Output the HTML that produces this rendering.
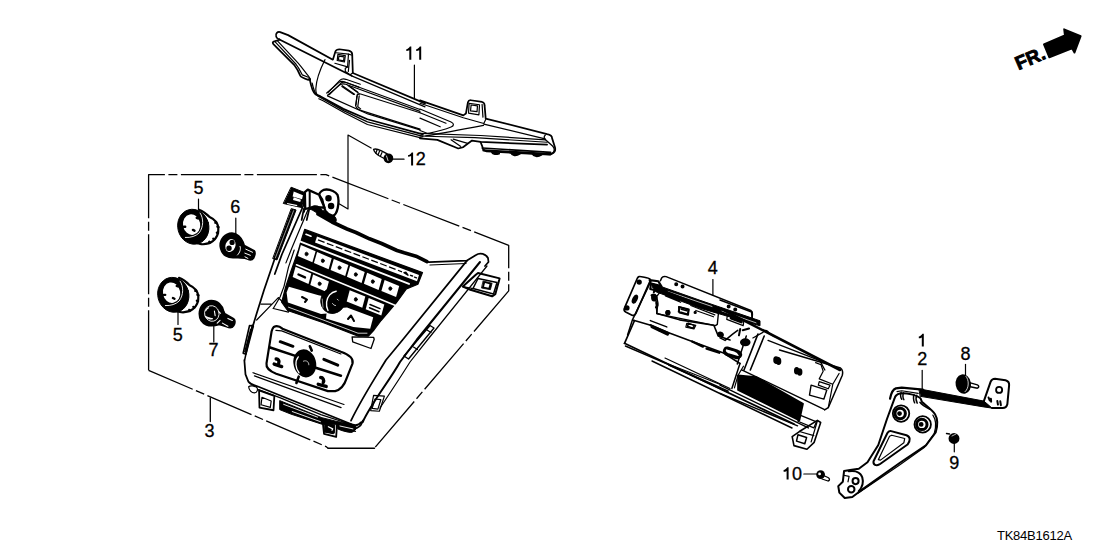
<!DOCTYPE html>
<html><head><meta charset="utf-8">
<style>
html,body{margin:0;padding:0;background:#fff;overflow:hidden;}
svg{display:block;}
text{font-family:"Liberation Sans",sans-serif;fill:#000;}
.n{font-size:18px;}
path,line,polyline,polygon,circle,ellipse,rect{fill:none;stroke:#000;stroke-width:1.75;vector-effect:non-scaling-stroke;stroke-linejoin:round;stroke-linecap:round;}
.t{stroke-width:1.2;}
.f{fill:#000;}
.w{fill:#fff;}
.d{stroke-dasharray:34 3 6 3;stroke-linecap:butt;stroke-width:1.3;}
</style></head><body>
<svg width="1108" height="554" viewBox="0 0 1108 554">
<!-- Part 11 bezel -->
<g transform="translate(265,25) scale(0.144404)">
<!-- top flange outline -->
<path d="M100,100 C78,95 68,70 82,55 C88,48 95,46 105,49 L160,70 L470,240 L488,182 C492,172 500,168 515,168 L580,178 C596,182 604,192 604,205 L608,330"/>
<!-- tab face -->
<path d="M492,192 L578,202 L572,290 L484,265" class="t"/>
<path d="M505,203 L556,212 L550,256 L500,246 Z" class="t"/>
<path d="M512,215 L548,221 L544,248 L508,242 Z" class="t"/>
<path d="M578,202 L598,208 M585,245 L577,322 M572,290 L556,300 L556,322 L580,338" class="t"/>
<!-- line B -->
<path d="M100,100 L600,352"/>
<!-- seam -->
<path d="M415,240 C385,300 355,380 352,440 C350,475 360,485 372,492" class="t"/>
<!-- left wing -->
<path d="M100,102 L60,115 C52,118 52,126 58,132 L205,280 C225,305 238,335 245,352 C250,362 270,370 300,380 L310,372" />
<path d="M72,118 L215,272 C238,300 250,330 258,345 L300,362" class="t"/>
<path d="M88,112 L228,262 C258,295 280,330 300,352 C308,362 312,370 315,378" class="t"/>
<!-- body left edge -->
<path d="M305,375 L312,381"/>
<!-- window frames -->
<path d="M436,468 L518,384 C528,374 545,372 560,376 L660,410" class="t"/>
<path d="M446,482 L526,402 C536,394 550,395 562,398 L650,430" class="t"/>
<path d="M535,420 L620,480 M592,428 L645,468" class="t"/>
<path d="M640,480 L655,478 M636,490 L630,554" class="t"/>
<!-- double top edge after tab -->
<path d="M608,332 L1108,543"/>
<path d="M600,352 L1108,567" class="t"/>
<path d="M590,345 L604,334" class="t"/>
</g>
<g transform="translate(300,80) scale(0.144404)">
<!-- bottom edge lines -->
<path d="M68,-2 C76,42 84,84 108,100 L140,112 L300,200 L467,272 L851,376"/>
<path d="M84,22 C92,60 100,92 122,110 L150,126 L305,214 L467,290 L851,390" style="stroke-width:1.3"/>
<path d="M130,130 L160,144 L310,228 L467,308 L851,404" class="t"/>
<!-- window -->
<path d="M185,90 L268,18 C278,10 292,8 305,12 L831,204" class="t"/>
<path d="M195,102 L278,32 C288,26 300,25 312,28 L831,217" class="t"/>
<path d="M195,102 L190,110 L470,235 L831,345" class="t"/>
<path d="M398,100 C402,96 410,95 420,97 L831,227" class="t"/>
<path d="M398,100 L385,178 C390,195 400,205 420,210 L831,340" class="t"/>
<path d="M410,110 L400,185 L420,200" class="t"/>
<path d="M290,45 L372,100 M332,38 L398,85" class="t"/>
</g>
<g transform="translate(420,90) scale(0.144404)">
<!-- tab 2 -->
<path d="M0,72 L300,176 L318,163 L332,85 C335,75 340,70 352,71 L430,83 C442,86 447,95 447,105 L455,198 L880,305 C905,310 915,318 915,335 L935,398 C940,420 935,432 915,440"/>
<path d="M340,92 L412,102 L408,172 L336,160 Z" class="t"/>
<path d="M354,104 L398,110 L395,150 L350,144 Z" class="t"/>
<path d="M430,100 L436,188" class="t"/>
<path d="M0,92 L300,192 L442,232 L455,205" class="t"/>
<path d="M442,236 L866,338" style="stroke-width:1.3"/>
<!-- window right end -->
<path d="M0,132 L215,222 C238,232 236,248 215,256 C180,270 130,285 60,300" class="t"/>
<path d="M0,158 L180,230 M0,195 L140,255" class="t"/>
<path d="M40,318 C150,300 300,272 440,245" class="t"/>
<!-- lower body -->
<path d="M0,300 L420,315 L870,345" class="t"/>
<path d="M0,318 L100,322 L380,330 L880,362" class="t"/>
<path d="M0,335 L120,345 L265,405 L300,395 L360,350 L420,360 L880,378" />
<path d="M215,345 L280,390 M230,340 L330,370" class="t"/>
<path d="M868,312 C855,322 858,338 875,350 L918,388 C932,402 932,422 920,438" style="stroke-width:1.3"/>
<!-- teeth strip -->
<path d="M420,362 L432,392 C432,410 440,420 460,425 L900,448 L915,440"/>
<path d="M432,402 L905,432" style="stroke-width:1.6"/>
<path d="M440,418 L905,444" style="stroke-width:2.4"/>
<path d="M495,425 C500,444 520,448 548,440 Z M628,432 C638,456 665,458 692,442 Z M778,440 C788,462 815,465 842,448 Z" class="f"/>
<path d="M0,280 C30,292 55,300 60,300" class="t"/>
</g>
<!-- Part 3 panel -->
<!-- H frame: clip and bracket -->
<g transform="translate(280,180) scale(0.072202)">
<path d="M158,102 L338,172 L302,382 L50,326 Z" class="f" style="stroke-width:1"/>
<path d="M190,160 L318,210 L305,268 L175,228 Z M190,240 L290,272 L280,305 L180,276 Z M100,318 L240,345 L236,362 L96,334 Z" class="w" style="stroke:none"/>
</g>
<g transform="translate(298,184) scale(0.072254)">
<path d="M170,345 C195,300 250,288 292,318 L335,362 L472,422 C505,440 530,470 530,500 L520,535 L470,525 L300,435 L238,385 L200,362 Z" class="f" style="stroke-width:1"/>
<path d="M292,150 C300,108 342,78 392,76 C452,74 522,108 547,150 C562,192 560,282 550,332 C537,392 512,432 482,442 C442,432 402,407 380,372 C360,332 346,262 336,217 Z" class="w" style="stroke-width:2.3"/>
<path d="M95,112 L135,78 L292,148 L368,328 L258,322 L165,332 L100,346 Z" class="w" style="stroke-width:2.3"/>
<path d="M162,100 L162,330" style="stroke-width:2"/>
<circle cx="422" cy="196" r="33" class="f"/>
<circle cx="458" cy="305" r="33" class="f"/>
<path d="M170,340 C195,305 250,295 288,322" style="stroke-width:2"/>
</g>
<g transform="translate(280,180) scale(0.072202)">
<path d="M330,400 L300,554 M410,380 L370,554" />
</g>
<!-- Q-TL frame -->
<g transform="translate(230,180) scale(0.24744)">
<!-- left rail -->
<path d="M249,116 L267,121 L190,323 L174,318 Z" class="f" style="stroke-width:1"/>
<path d="M257,124 L183,316" style="stroke:#fff;stroke-width:0.6"/>
<!-- panel left outer edge (upper) -->
<path d="M300,52 L298,100 L210,300 L181,380"/>
<path d="M316,118 L250,275 L226,335" class="t"/>
<!-- slanted line from S bracket -->
<path d="M305,110 L300,130" class="t"/>
</g>
<!-- frame 6.925 at (235,250) -->
<g transform="translate(235,250) scale(0.144404)">
<path d="M275,60 L200,280 L150,440 L118,545"/>
<path d="M410,0 L370,120 L340,250 L312,325 L265,405" class="t"/>
<path d="M180,375 L250,375 M300,330 L250,382 L150,485 M265,405 L370,430 L378,408 L320,350 L300,330" class="t"/>
</g>
<path d="M304.7,229.4 L422.5,272.6 L417.9,284.2 L406.4,289.0 L396.2,302.9 L381.1,320.5 L374.0,330.0 L368.4,336.2 L358.3,336.2 L324.2,323.0 L287.6,310.5 L281.5,302.0 L282.5,299.1 L285.5,287.5 L291.3,270.2 L298.5,250.0 L302.0,238.0 Z" class="f" style="stroke-width:1.2"/>
<path d="M317.0,236.4 L419.0,275.1 L417.0,281.3 L315.0,242.5 Z" class="w" style="stroke:none"/>
<path d="M318,239.9 L402,271.8" style="stroke-width:1.3;stroke-dasharray:7 2.5;stroke-linecap:butt"/>
<path d="M404,272.7 L406,272.3 L408,275.2 Z M410.5,275.3 L412.5,276.0 M414.5,277.1 L416.5,277.9" style="stroke-width:1.4"/>
<path d="M306,234.3 L311,236.2" style="stroke:#fff;stroke-width:1.6"/>
<path d="M300.5,241.6 L409,283.9" style="stroke:#fff;stroke-width:1.9"/>
<path d="M296.5,264.8 L404,309" style="stroke:#fff;stroke-width:1.6"/>
<path d="M300.9,245.1 L315.6,251.2 L312.4,262.2 L297.8,256.1 Z" class="w" style="stroke:none"/>
<path d="M317.1,252.1 L331.7,258.2 L328.6,269.2 L313.9,263.1 Z" class="w" style="stroke:none"/>
<path d="M333.8,258.9 L348.4,265.1 L345.2,276.1 L330.6,269.9 Z" class="w" style="stroke:none"/>
<path d="M350.1,265.8 L364.7,271.9 L361.6,282.9 L346.9,276.8 Z" class="w" style="stroke:none"/>
<path d="M367.1,272.8 L381.7,278.9 L378.6,289.9 L363.9,283.8 Z" class="w" style="stroke:none"/>
<path d="M384.6,279.9 L399.2,286.1 L396.1,297.1 L381.4,290.9 Z" class="w" style="stroke:none"/>
<path d="M295.5,266.7 L311.3,273.5 L308.5,283.9 L292.7,277.1 Z" class="w" style="stroke:none"/>
<path d="M313.1,274.6 L328.9,281.4 L326.1,291.8 L310.3,285.0 Z" class="w" style="stroke:none"/>
<path d="M349.7,290.2 L365.3,296.6 L362.3,307.8 L346.7,301.4 Z" class="w" style="stroke:none"/>
<path d="M368.7,298.0 L384.3,304.4 L381.3,315.6 L365.7,309.2 Z" class="w" style="stroke:none"/>
<path d="M288.9,286.8 L318.5,295.2 L327.0,297.0 L327.0,313.5 L321.0,314.0 L287.9,302.4 L286.6,292.5 Z" class="w" style="stroke:none"/>
<path d="M327.0,309.0 L347.0,307.5 L373.2,317.3 L370.2,328.8 L353.4,327.0 L326.0,318.5 Z" class="w" style="stroke:none"/>
<path d="M288.5,307.2 L324,320.3 L358,333.2 L367,333.2" style="stroke:#fff;stroke-width:0.8"/>
<path d="M352.1,336.8 L373.6,337.3 L374.2,339.2 L371,348.5 L352.7,341.8 Z" style="stroke-width:1.3"/>
<ellipse cx="333" cy="300.5" rx="12.2" ry="13.2" transform="rotate(20 333 300.5)" class="f" style="stroke-width:0.8"/>
<path d="M336.2,291.2 C331,292 327.2,296.5 326.6,302 C326.2,305.5 326.8,308.5 328,310.5" style="stroke:#fff;stroke-width:1.4"/>
<path d="M322.2,299 L323,307.5" style="stroke:#fff;stroke-width:0.6"/>
<path d="M337.3,299.2 L338.3,300.2 M332.5,303.5 C333.5,305 334.5,305.5 335.5,305.5" style="stroke:#fff;stroke-width:0.8"/>
<ellipse cx="306.5" cy="254.0" rx="1.5" ry="1.8" class="f" style="stroke-width:0.8"/>
<ellipse cx="322.8" cy="260.8" rx="1.5" ry="1.8" class="f" style="stroke-width:0.8"/>
<ellipse cx="339.5" cy="267.7" rx="1.5" ry="1.8" class="f" style="stroke-width:0.8"/>
<ellipse cx="355.8" cy="274.5" rx="1.5" ry="1.8" class="f" style="stroke-width:0.8"/>
<ellipse cx="372.8" cy="281.6" rx="1.5" ry="1.8" class="f" style="stroke-width:0.8"/>
<ellipse cx="390.3" cy="288.6" rx="1.5" ry="1.8" class="f" style="stroke-width:0.8"/>
<ellipse cx="319.6" cy="283.8" rx="1.5" ry="1.8" class="f" style="stroke-width:0.8"/>
<ellipse cx="355.8" cy="299.4" rx="1.5" ry="1.8" class="f" style="stroke-width:0.8"/>
<path d="M298.5,274.5 L305,277.4" style="stroke-width:2.4"/>
<path d="M370,304.5 L380,308.6 M369.5,307.8 L379,311.8" style="stroke-width:1.5"/>
<path d="M302,297 L307,299.6 L305,302" style="stroke-width:2"/>
<path d="M348,319 L351,315.5 L354,321" style="stroke-width:2"/>
<!-- lower group -->
<g transform="translate(260,320) scale(0.144509)">
<path d="M95,48 C115,38 138,45 155,60 L560,220 C622,242 648,270 640,302 L600,402 C582,458 558,482 520,492 L470,492 L112,372 C62,352 40,332 45,300 L80,80 C83,65 88,55 95,48 Z" style="stroke-width:2.2"/>
<path d="M110,72 L150,75 L560,235" class="t"/>
<path d="M70,190 L250,250 M385,330 L560,385 M345,182 L358,212 M268,392 L252,436" style="stroke-width:2.6"/>
<ellipse cx="310" cy="300" rx="72" ry="92" transform="rotate(-15 310 300)" class="f"/>
<path d="M265,255 C240,285 245,335 270,365" style="stroke:#fff;stroke-width:1.3"/>
<path d="M300,285 C320,275 340,290 338,310" style="stroke:#fff;stroke-width:0.7"/>
<path d="M140,150 L228,182 M442,272 L538,312" style="stroke-width:3"/>
<path d="M98,305 L150,322 M112,270 C125,268 135,280 130,295 M403,445 L458,460 M420,398 C435,398 445,415 438,432" style="stroke-width:3.4"/>
</g>
<!-- bottom of panel -->
<g transform="translate(240,360) scale(0.144404)">
<path d="M30,0 L38,100 L58,150 C70,165 90,175 120,182 L760,440 C790,455 820,455 840,430"/>
<path d="M90,88 L720,308 M100,110 L700,330" class="t"/>
<path d="M128,205 L280,262 L560,378 L780,450" class="t"/>
<path d="M132,210 L238,248 L232,348 L135,330 Z" style="stroke-width:1.8"/>
<path d="M152,258 L216,284 L210,328 L146,310 Z" class="t"/>
<path d="M60,185 C70,175 100,178 118,192 C125,205 120,225 100,228 C80,228 62,210 60,185 Z" class="t"/>
<path d="M350,340 L560,410 L552,432 L345,362 Z" class="f" style="stroke-width:1"/>
<path d="M572,420 L672,442 L666,532 L582,512 Z" style="stroke-width:1.8"/>
<path d="M592,450 L650,466 L645,510 L586,498 Z" class="t"/>
<path d="M680,440 C720,465 780,480 810,470 C830,462 845,445 850,420" />
<path d="M700,450 L800,478 M690,470 L800,495" class="t"/>
<path d="M905,350 L925,245 L1000,250 L965,355 Z" class="t"/>
<path d="M935,270 L975,275 L955,340 L915,335 Z" class="t"/>
</g>
<g transform="translate(236,300) scale(0.108306)">
<path d="M150,232 L115,390 L80,554" style="stroke-width:1.5"/>
<path d="M125,235 L160,240 L92,500 L66,492 Z" style="stroke-width:1.6"/>
<path d="M135,270 L80,480 M148,262 L90,488" class="t"/>
</g>
<g transform="translate(280,400) scale(0.072202)">
<path d="M0,10 L580,245 L800,300 L800,335 L580,335 L150,195 L0,135 Z" class="f" style="stroke-width:1"/>
<path d="M170,160 L560,300 M50,60 L520,238" style="stroke:#fff;stroke-width:0.9"/>
<path d="M620,330 L760,345 L752,460 L612,440 Z" class="f" style="stroke-width:1"/>
<path d="M670,370 L730,400 L720,420" style="stroke:#fff;stroke-width:1.2"/>
<path d="M800,300 C900,310 1000,330 1050,360 C1060,400 1040,440 980,450 C900,440 840,420 800,400 Z" class="f" style="stroke-width:1"/>
<path d="M830,360 L1010,400" style="stroke:#fff;stroke-width:0.9"/>
</g>
<!-- panel top edge and right arm (real coords) -->
<path d="M318,214 L332,222 L347,229 L356,232.5 L369.5,238.8 L381.6,243.5 L397,250.5 L404.2,252.8 L416,256.2 L427,261.6" style="stroke-width:3.6"/>
<path d="M426,261 L429,262.2 L467,260.6 L476,255 C480,252 486,254 488,258 L488.5,262 L485,266"/>
<path d="M430,265 L466,263.5" class="t"/>
<path d="M467,260.6 L402.5,340 L386,360 C375,378 362,398 351,420.6"/>
<path d="M480,262 L416.6,340 L400,362 C390,380 372,402 362.7,422" style="stroke-width:2"/>
<path d="M487,266 L427.4,340 L410,362 C400,378 388,396 380,408" class="t"/>
<path d="M404,356 L430,325.5 L434,328 L408.5,359 Z" style="stroke-width:1.4"/>
<path d="M413.5,347 L417.5,349.5 M427,330 L431,332.5" class="t"/>
<!-- right clip -->
<path d="M462.8,286.6 L475.8,274.7 L478,273 L499.6,278.4 L495.3,294.2 L492.1,296.3 L470.4,289.8 Z" style="stroke-width:2"/>
<path d="M478,278.5 L497,282.5 L493.5,294 L473,288.5 Z" style="stroke-width:1.5"/>
<path d="M483.4,281.1 L492.1,283.2 L490.4,289.7 L481.8,288.1 Z" class="f" style="stroke-width:0.8"/>
<path d="M485,283 L489.5,284.2 L488.5,287.8 L484,286.8 Z" class="w" style="stroke:none"/>
<path d="M462.8,286.6 L473,288.5 M470.4,289.8 L473,288.5" class="t"/>
<!-- dashed box for part 3 -->
<path d="M148.6,370.3 L148.6,174.6 L326,174.6 L508.7,245.3 L508.7,290.8 L374.5,448" class="d" style="stroke-dasharray:60 3.5 9 3.5"/>
<path d="M148.6,370.3 L326,446.6 L328,448.2" class="d" style="stroke-dasharray:48 3.5 9 3.5"/>
<path d="M328,448.2 L374.5,448.2" style="stroke-width:1.4"/>
<!-- leaders -->
<path d="M414.4,65 L414.4,98.3" class="t" style="stroke-width:1.2"/>
<path d="M392.5,159.2 L404,159.2" style="stroke-width:1.3"/>
<path d="M371.1,148 L348,135.1 L348,209 L339.5,204" class="t" style="stroke-width:1.2"/>
<path d="M210.3,398 L210.3,421.5" style="stroke-width:1.3"/>
<path d="M712.9,279.5 L712.9,295.3" class="t" style="stroke-width:1.2"/>
<path d="M922.2,370.4 L922.2,392" class="t" style="stroke-width:1.2"/>
<path d="M965.5,364.4 L965.5,378" class="t" style="stroke-width:1.2"/>
<path d="M954.3,441.8 L954.3,451.8" class="t" style="stroke-width:1.2"/>
<path d="M803.8,474 L816.7,474" class="t" style="stroke-width:1.2"/>
<!-- screw 12 -->
<path d="M373.6,149.4 C375,148.6 378,149.2 381.5,150.8 L387.2,153.8 L385.2,159 L379.5,156 C376.5,154.2 374.2,151.5 373.6,149.4 Z" style="stroke-width:1.4"/>
<path d="M377,150 L375.8,153.2 M379.5,151.2 L378.2,154.4 M382,152.6 L380.6,155.8" class="t"/>
<circle cx="388.4" cy="158.3" r="4" class="f"/>
<path d="M386.5,156 L388,160.5" style="stroke:#fff;stroke-width:0.8"/>
<!-- FR arrow -->
<polygon points="1043.9,44.4 1064.8,35.2 1064.1,29.2 1080.7,36.1 1074.5,52.7 1072,48.4 1049.3,57.4" class="f"/>
<defs>
<g id="k5">
<path d="M330,75 C400,100 440,140 470,172 C530,200 575,250 585,310 C590,380 562,450 512,490 C470,522 420,535 360,530 L300,515" style="stroke-width:2.2"/>

<path d="M572,300 L588,305 M565,378 L582,386 M518,458 L534,468 M465,498 L472,515 M545,248 L560,244" style="stroke-width:2.2"/>
<ellipse cx="255" cy="300" rx="205" ry="232" transform="rotate(-15 255 300)" class="f" style="stroke-width:1"/>
<ellipse cx="232" cy="272" rx="114" ry="136" transform="rotate(-10 232 272)" class="w" style="stroke:none"/>
<path d="M345,120 C392,190 392,300 332,382 C292,422 222,447 150,442" style="stroke:#fff;stroke-width:0.9"/>
<path d="M128,300 L148,300 M250,342 L270,352 M300,182 L318,190" style="stroke-width:2.4"/>
</g>
</defs>
<use href="#k5" transform="translate(174,204) scale(0.075758)"/>
<use href="#k5" transform="translate(154,272.1) scale(0.075758)"/>
<!-- knob 6 -->
<g transform="translate(216,228) scale(0.061384)">
<path d="M70,300 C60,180 150,90 260,85 C340,85 410,150 440,230 L460,285 L620,370 C642,392 636,440 612,490 C592,520 552,525 512,505 L470,490 C420,480 380,490 330,480 C200,500 90,450 70,300 Z" class="f"/>
<ellipse cx="235" cy="285" rx="80" ry="108" transform="rotate(20 235 285)" class="w" style="stroke:none"/>
<circle cx="262" cy="235" r="28" class="f"/>
<circle cx="212" cy="330" r="30" class="f"/>
<path d="M392,300 C410,340 390,400 350,440" style="stroke:#fff;stroke-width:1"/>
<path d="M485,345 L595,395 M472,470 L520,495 M470,410 L560,445" style="stroke:#fff;stroke-width:1"/>
</g>
<!-- knob 7 -->
<g transform="translate(196,296) scale(0.061367)">
<path d="M55,290 C55,170 140,80 250,75 C350,75 430,150 450,250 L470,290 L612,372 C642,392 640,440 615,480 C590,520 540,520 500,500 L380,462 C320,482 240,496 170,470 C100,440 55,370 55,290 Z" class="f"/>
<path d="M150,330 C180,372 230,386 272,370 C230,362 190,350 150,330 Z" class="w" style="stroke:#fff;stroke-width:1"/>
<ellipse cx="258" cy="285" rx="118" ry="128" transform="rotate(-15 258 285)" style="stroke:#fff;stroke-width:0.9"/>
<path d="M158,240 C170,215 185,200 205,192 M300,245 L312,320 M520,365 L592,398 M430,442 L520,492 M345,442 L392,396 M380,270 L400,280" style="stroke:#fff;stroke-width:1.1"/>
</g>
<!-- leaders for knobs -->
<path d="M198.5,199 L198.5,209.5" class="t" style="stroke-width:1.2"/>
<path d="M235.8,218 L235.8,233.6" class="t" style="stroke-width:1.2"/>
<path d="M178,311.8 L178,324.5" class="t" style="stroke-width:1.2"/>
<path d="M213.8,324.4 L213.8,342" class="t" style="stroke-width:1.2"/>
<!-- Part 4 unit -->
<path d="M651.6,283.2 L700,300.3 L760,320.8 L760,325.8 L700,308.2 L656,291.8 Z" class="f" style="stroke-width:1"/>
<path d="M668,291.5 L712,306.5 M722,311 L756,322.8" style="stroke:#fff;stroke-width:0.7"/>
<g transform="translate(620,265) scale(0.126354)">
<!-- left flange -->
<path d="M150,92 C158,88 228,104 236,110 C242,116 240,124 236,132 L125,385 C118,398 108,402 95,398 L45,372 C33,365 30,352 36,340 L138,103 C141,97 145,94 150,92 Z" style="stroke-width:1.7"/>
<circle cx="152" cy="135" r="14" class="f"/>
<ellipse cx="118" cy="270" rx="14" ry="32" transform="rotate(25 118 270)" class="f"/>
<circle cx="55" cy="340" r="14" class="f"/>
<!-- box left edge -->
<path d="M245,128 L105,420 L95,445 M100,430 L60,554" style="stroke-width:1.5"/>
<!-- top tab -->
<path d="M320,125 L330,102 C336,92 350,88 365,92 L1035,360 C1048,368 1050,378 1048,390 L1045,425" style="stroke-width:1.5"/>
<circle cx="445" cy="152" r="9" class="f"/><circle cx="495" cy="170" r="9" class="f"/>
<circle cx="860" cy="328" r="9" class="f"/><circle cx="912" cy="352" r="9" class="f"/>
<!-- main thick edge -->

<path d="M240,145 L300,168 M255,175 L330,185 L300,200" class="t"/>
<!-- circuit area -->
<path d="M330,195 L780,372 L770,470 L755,480 L290,385 L300,300 L290,250 Z" style="stroke-width:1.4"/>
<path d="M345,230 L470,285 M360,245 L480,295" class="t"/>
<path d="M465,330 L545,350 L540,395 L470,378 Z M485,350 L530,362" style="stroke-width:1.6"/>
<path d="M560,300 L760,375 M560,320 L750,395 M600,360 L740,410" class="t"/>
<path d="M850,395 L980,445 L975,480 L845,430 Z" class="t"/>
<path d="M880,420 L960,450" style="stroke-width:3"/>
<circle cx="380" cy="375" r="12" class="f"/>
<circle cx="595" cy="375" r="6" class="f"/>
<path d="M260,160 C275,180 280,200 268,215 M250,240 L280,255 M290,300 C300,310 298,330 285,335" style="stroke-width:2.2"/>
<path d="M240,440 L370,490 M310,520 L380,540 M540,460 L590,480 L575,500 L535,485 Z" style="stroke-width:1.5"/>
</g>
<g transform="translate(720,300) scale(0.126354)">
<path d="M10,70 L950,554" style="stroke-width:2.6"/>
<path d="M0,0 L250,95 L255,150" style="stroke-width:1.5"/>
<path d="M300,270 L190,554 M350,285 L240,554" style="stroke-width:1.6"/>
<path d="M380,320 L790,480 L830,554 M345,245 C360,235 380,245 385,260 L430,290" style="stroke-width:1.3"/>
<path d="M260,300 L350,250" class="t"/>
<ellipse cx="455" cy="478" rx="18" ry="22" class="f"/>
<path d="M40,385 C30,400 40,420 60,428 L140,452 C160,455 172,440 165,425 C160,412 150,405 135,400 L60,378 C52,376 45,378 40,385 Z" style="stroke-width:2.4"/>
<ellipse cx="200" cy="335" rx="35" ry="25" class="f"/>
<path d="M0,300 L40,320 L100,270 L140,240" style="stroke-width:1.5"/>
<circle cx="10" cy="275" r="14" class="f"/>
<path d="M160,230 L150,280 M180,240 L230,225" style="stroke-width:2"/>
</g>
<g transform="translate(720,350) scale(0.180412)">
<path d="M330,0 L668,100 C680,110 682,125 678,140 L600,320 L580,332" style="stroke-width:1.5"/>
<path d="M530,70 L560,82 L572,118 L550,160 L625,190 L660,130 M625,190 L600,320" class="t"/>
<path d="M550,175 L610,195 L600,215 L545,195 Z" class="t"/>
<path d="M505,195 L592,222 L576,272 L496,250 Z" style="stroke-width:1.4"/>
<path d="M100,140 L200,150 L460,298 L440,390 L100,222 Z" class="f"/>
<path d="M0,195 L490,432 M0,240 L430,420 M120,110 L580,330" style="stroke-width:1.4"/>
<path d="M130,90 L100,140 L80,210" class="t"/>
<path d="M440,360 L535,398 L520,432 L432,395 Z" style="stroke-width:1.3"/>
<path d="M400,480 L440,452 L540,390 L558,402 L522,512 L482,550 L410,530 Z" style="stroke-width:1.6"/>
<path d="M432,470 L480,485 L470,520 L424,505 Z" style="stroke-width:1.5"/>
<path d="M540,392 L505,510 M440,452 L520,475" class="t"/>
<ellipse cx="310" cy="55" rx="10" ry="16" class="f"/><ellipse cx="325" cy="62" rx="10" ry="16" class="f"/>
<ellipse cx="425" cy="115" rx="10" ry="16" class="f"/><ellipse cx="442" cy="122" rx="10" ry="16" class="f"/>
</g>
<g transform="translate(620,300) scale(0.180412)">
<path d="M80,115 L25,240" style="stroke-width:1.7"/>
<path d="M75,112 L170,140 L270,182 L400,230 L570,292 L665,352" style="stroke-width:1.6"/>
<path d="M170,140 L270,185 M175,150 L265,192" style="stroke-width:2.2"/>
<path d="M400,230 L460,258 M480,270 L550,292" style="stroke-width:2.4"/>
<path d="M30,255 L250,350 L600,505" style="stroke-width:1.4"/>
<path d="M250,348 L560,470 M270,362 L600,512" style="stroke-width:1.2"/>
<path d="M665,352 L620,490" style="stroke-width:1.5"/>
<path d="M700,200 L650,355" style="stroke-width:1.5"/>
<path d="M200,5 L205,75 L330,110 L520,140 L545,200 L610,222" style="stroke-width:1.6"/>
<path d="M580,272 C570,285 580,300 600,308 L645,322 C660,325 668,315 662,302 C658,292 650,285 635,280 L595,268 C588,266 583,268 580,272 Z" style="stroke-width:2.2"/>
<circle cx="690" cy="235" r="14" class="f"/>
<circle cx="555" cy="190" r="10" class="f"/>
<circle cx="265" cy="70" r="10" class="f"/>
<path d="M330,40 L380,55 L375,80 L325,65 Z" style="stroke-width:1.8"/>
<path d="M370,130 L420,140 L410,160 L365,150 Z" class="t"/>
</g>
<path d="M624.5,343.3 L794,424" style="stroke-width:1.7"/>
<path d="M652,361 L792,428" style="stroke-width:1.4"/>
<path d="M665,358 L730,388.5" style="stroke-width:1.2"/>
<g transform="translate(615,265) scale(0.108254)">
<path d="M335,170 L410,190 L400,240 L325,222 Z" style="stroke-width:2"/>
<path d="M345,275 C360,265 385,275 385,300 C385,320 370,332 352,328 C340,322 338,295 345,275 Z" class="f"/>
<path d="M320,140 L400,150 L430,200" style="stroke-width:2.2"/>
</g>
<!-- bracket 1/2 -->
<g transform="translate(835,380) scale(0.216535)">
<path d="M395,85 C380,70 330,58 300,62 C285,65 278,72 275,85 L240,180 L200,300 L150,380 L110,410 L70,416 L42,420 L36,470 L15,490 L20,520 L45,545 L80,540 L120,510 L300,382 L420,302 L465,242 C475,210 475,180 462,158 C448,138 425,122 402,102 Z" style="stroke-width:2"/>
<path d="M108,522 L295,395 L412,312 L458,248 C468,215 466,182 452,162" class="t"/>
<path d="M255,235 L330,255 C348,262 350,280 335,298 L205,390 C190,398 175,392 178,375 L242,245 C245,238 250,235 255,235 Z" style="stroke-width:2"/>
<path d="M262,255 L322,270 L318,290 L210,370 L200,368 L252,260 Z" class="t"/>
<circle cx="305" cy="155" r="38" style="stroke-width:1.8"/>
<circle cx="301" cy="155" r="24" style="stroke-width:3"/>
<circle cx="298" cy="155" r="7" class="f"/>
<circle cx="405" cy="205" r="38" style="stroke-width:1.8"/>
<circle cx="401" cy="205" r="24" style="stroke-width:3"/>
<circle cx="398" cy="205" r="7" class="f"/>
<circle cx="95" cy="467" r="14" style="stroke-width:2"/>
<circle cx="75" cy="505" r="15" style="stroke-width:2"/>
<path d="M40,440 L65,445 L60,470" class="t"/>
</g>
<g transform="translate(890,360) scale(0.117329)">
<path d="M0,330 C10,280 25,250 50,242 L100,236 L280,252" style="stroke-width:2.2"/>
<path d="M250,250 L280,252 L800,350 L870,410 L800,400 L260,310 Z" class="f" style="stroke-width:1"/>
<path d="M800,350 L858,185 C865,168 880,160 895,160 L985,172 C1005,178 1018,195 1015,218 L1000,378 C995,398 980,410 960,410 L870,410" style="stroke-width:2"/>
<circle cx="930" cy="255" r="26" style="stroke-width:1.8"/>
<path d="M840,320 L850,345 M860,330 L862,355 M915,350 L920,380 M940,352 L945,385" style="stroke-width:2"/>
<path d="M95,275 C88,290 88,320 100,335 M115,280 C108,295 108,325 118,338 M205,295 C198,310 198,345 210,365 M228,300 C220,318 222,350 232,368" style="stroke-width:1.5"/>
<path d="M60,270 L100,262 L240,285" class="t"/>
<path d="M255,360 C270,380 300,400 340,420" style="stroke-width:1.5"/>
<!-- nut 8 -->
<path d="M685,195 L745,212 C760,218 760,235 745,240 L685,228" style="stroke-width:1.5"/>
<ellipse cx="625" cy="205" rx="58" ry="76" transform="rotate(-10 625 205)" class="f"/>
<path d="M648,140 C675,170 675,240 640,270" style="stroke:#fff;stroke-width:0.8"/>
</g>
<!-- nut 9 -->
<circle cx="954" cy="438.5" r="4.6" class="f"/>
<path d="M949.5,434 L946.5,433.5" style="stroke-width:1.4"/>
<path d="M952,436 L956,434" style="stroke:#fff;stroke-width:0.7"/>
<!-- bolt 10 -->
<circle cx="820.6" cy="474.6" r="4.4" class="f" style="stroke:none"/>
<circle cx="819.6" cy="473.9" r="1.4" class="w" style="stroke:none"/>
<path d="M823.5,475.5 L828,477.5 C830,478.5 830,480.5 828,481 L822,479" style="stroke-width:1.3"/>
<g transform="translate(800,440) scale(0.108306)">
<path d="M450,288 C510,280 560,300 575,345 C588,390 572,440 542,472" style="stroke-width:2"/>
<path d="M545,480 L739,345" class="t"/>
</g>
<text transform="translate(1018.6,70.2) rotate(-23.1)" style="font-size:19px;font-weight:bold;stroke:#000;stroke-width:0.9;stroke-linejoin:miter;vector-effect:none">FR.</text>
<text x="997" y="540" style="font-size:13px;letter-spacing:-0.25px">TK84B1612A</text>
<path d="M409.90,46.60 L411.30,46.60 L411.30,59.70 L409.30,59.70 L409.30,50.20 C408.50,50.80 407.30,51.00 406.30,51.00 L406.30,49.20 C407.70,49.10 409.10,48.20 409.90,46.60 Z" class="f" style="stroke:none"/>
<path d="M419.80,46.60 L421.20,46.60 L421.20,59.70 L419.20,59.70 L419.20,50.20 C418.40,50.80 417.20,51.00 416.20,51.00 L416.20,49.20 C417.60,49.10 419.00,48.20 419.80,46.60 Z" class="f" style="stroke:none"/>
<path d="M411.70,152.40 L413.10,152.40 L413.10,165.50 L411.10,165.50 L411.10,156.00 C410.30,156.60 409.10,156.80 408.10,156.80 L408.10,155.00 C409.50,154.90 410.90,154.00 411.70,152.40 Z" class="f" style="stroke:none"/>
<path d="M922.40,333.80 L923.80,333.80 L923.80,346.50 L921.80,346.50 L921.80,337.40 C921.00,338.00 919.80,338.20 918.80,338.20 L918.80,336.40 C920.20,336.30 921.60,335.40 922.40,333.80 Z" class="f" style="stroke:none"/>
<path d="M787.20,467.30 L788.60,467.30 L788.60,479.60 L786.60,479.60 L786.60,470.90 C785.80,471.50 784.60,471.70 783.60,471.70 L783.60,469.90 C785.00,469.80 786.40,468.90 787.20,467.30 Z" class="f" style="stroke:none"/>
<g style="font-size:18px;stroke:#000;stroke-width:0.3">
<text x="415.7" y="165.4">2</text>
<text x="193.6" y="194.2">5</text>
<text x="230.2" y="212.9">6</text>
<text x="172.8" y="341.0">5</text>
<text x="208.4" y="355.8">7</text>
<text x="204.5" y="436.9">3</text>
<text x="707.8" y="274.4">4</text>
<text x="917.2" y="365.4">2</text>
<text x="960.5" y="359.6">8</text>
<text x="949.2" y="468.8">9</text>
<text x="791.9" y="479.7">0</text>
</g>

</svg>
</body></html>
